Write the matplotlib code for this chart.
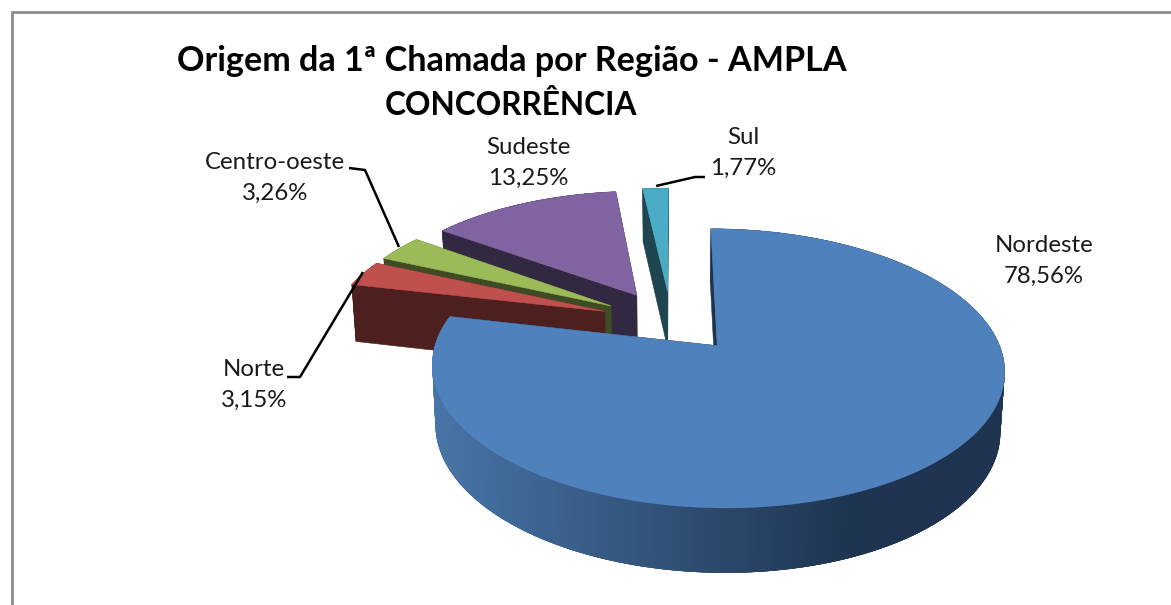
import numpy as np
import matplotlib
matplotlib.use("Agg")
import matplotlib.pyplot as plt
from matplotlib.patches import Polygon
from matplotlib.collections import PolyCollection

# --- data ---
categories = ["Nordeste", "Norte", "Centro-oeste", "Sudeste", "Sul"]
values = [78.56, 3.15, 3.26, 13.25, 1.77]
labels = ["78,56%", "3,15%", "3,26%", "13,25%", "1,77%"]
title_line1 = "Origem da 1ª Chamada por Região - AMPLA"
title_line2 = "CONCORRÊNCIA"

# --- styles ---
top_colors = ["#4F81BD", "#C0504D", "#9BBB59", "#8064A2", "#4BACC6"]
wall_colors = ["#1E3450", "#4D1F1E", "#3E4B24", "#332841", "#1E4550"]
draw_order = [3, 4, 2, 1, 0]
EXPLODE_X, EXPLODE_Y = 0.26, 0.24
CX, CY, B, A, K = 671.5, 321.0, 274.0, 128.0, 0.157
D, K2, SHRINK = 58.4, 0.0852, 0.013
FONT = "Lato"
label_pos = {"Nordeste": (1044, 261), "Norte": (254, 385), "Centro-oeste": (275, 178),
             "Sudeste": (528, 163), "Sul": (743, 153)}
leaders = [[(349, 168), (365, 170), (399, 247)],
           [(656, 186), (695, 177), (705, 177)],
           [(287, 377), (300, 377), (363, 272)]]


def proj(X, Y, z=0.0):
    w = 1 + K * Y
    sx = CX + B * X / w * (1 - SHRINK * z)
    sy = CY - A * Y / w + z * D / (1 + K2 * Y)
    return np.column_stack([np.atleast_1d(sx), np.atleast_1d(sy)])


fig = plt.figure(figsize=(11.71, 6.05), dpi=100, facecolor="white")
ax = fig.add_axes([0, 0, 1, 1])
ax.set_xlim(0, 1171)
ax.set_ylim(605, 0)
ax.axis("off")

# chart frame (open to the right and bottom of the crop)
ax.plot([11.5, 11.5, 1171], [605, 11.5, 11.5], color="#8C8C8C", lw=2.0,
        solid_joinstyle="miter", zorder=1)

total = sum(values)
edges = np.concatenate([[0], np.cumsum(values)]) / total * 2 * np.pi
lt = np.array([72, 117, 168]) / 255
dk = np.array([30, 52, 80]) / 255

for n, i in enumerate(draw_order):
    a0, a1 = edges[i], edges[i + 1]
    mid = (a0 + a1) / 2
    ox, oy = EXPLODE_X * np.sin(mid), EXPLODE_Y * np.cos(mid)
    th = np.linspace(a0, a1, max(int((a1 - a0) * 100), 8))
    X, Y = ox + np.sin(th), oy + np.cos(th)
    base = 10 + n * 5
    top = proj(X, Y)
    bot = proj(X, Y, 1)
    tip_t = proj(ox, oy)
    tip_b = proj(ox, oy, 1)
    # outer wall: overlapping quads painted left to right so no seams show
    quads, cols = [], []
    for j in np.argsort(top[:-1, 0]):
        k = min(j + 2, len(top) - 1)
        l = max(j - 2, 0)
        quads.append([top[l], top[k], bot[k], bot[l]])
        if i == 0:
            t = np.clip((top[j, 0] - 432) / (860 - 432), 0, 1)
            cols.append(lt + (dk - lt) * t)
        else:
            cols.append(matplotlib.colors.to_rgb(wall_colors[i]))
    ax.add_collection(PolyCollection(quads, facecolors=cols, edgecolors="none",
                                     linewidths=0, zorder=base))
    # radial walls
    for e in (0, -1):
        ax.add_patch(Polygon([tip_t[0], top[e], bot[e], tip_b[0]], closed=True,
                             facecolor=wall_colors[i], edgecolor=wall_colors[i],
                             lw=0.4, zorder=base + 1))
    # top face
    ax.add_patch(Polygon(np.vstack([tip_t, top]), closed=True,
                         facecolor=top_colors[i], edgecolor=top_colors[i],
                         lw=0.4, zorder=base + 2))

for pts in leaders:
    xs, ys = zip(*pts)
    ax.plot(xs, ys, color="black", lw=1.8, zorder=60, solid_capstyle="butt")

for c, v in zip(categories, labels):
    x, y = label_pos[c]
    ax.text(x, y, f"{c}\n{v}", ha="center", va="center", fontsize=17.3,
            family=FONT, color="#1a1a1a", linespacing=1.55, zorder=70)

ax.text(512, 61, title_line1, ha="center", va="center", fontsize=24.6,
        family=FONT, weight="bold", color="black", zorder=70)
ax.text(511.5, 105, title_line2, ha="center", va="center", fontsize=22.8,
        family=FONT, weight="bold", color="black", zorder=70)

fig.savefig("out.png", dpi=100, facecolor="white")
